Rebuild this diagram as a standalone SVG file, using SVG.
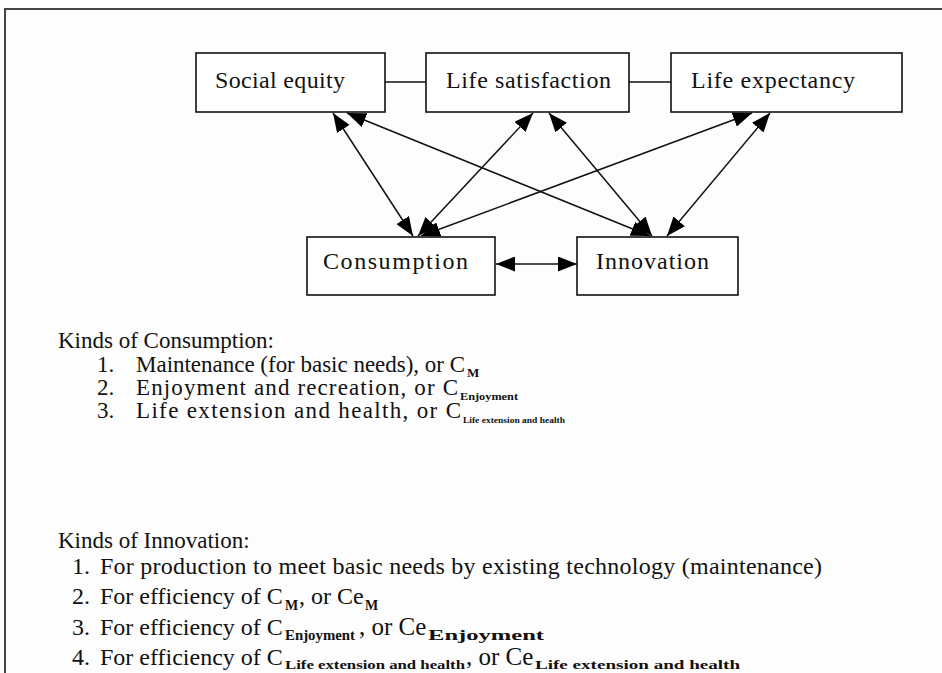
<svg xmlns="http://www.w3.org/2000/svg" width="942" height="673" viewBox="0 0 942 673">
<style>
text{font-family:"Liberation Serif","Times New Roman",serif;fill:#111}
.lbl{font-size:24px}
.body{font-size:23px}
.big{font-size:24px}
.sub{font-weight:bold}
.box{fill:#fff;stroke:#111;stroke-width:1.6}
.con{stroke:#111;stroke-width:1.5;fill:none}
</style>
<defs>
<marker id="ah" viewBox="0 0 19 15" refX="19" refY="7.5" markerWidth="19" markerHeight="15" markerUnits="userSpaceOnUse" orient="auto-start-reverse">
<path d="M0,0 L19,7.5 L0,15 z" fill="#000"/>
</marker>
</defs>
<rect x="0" y="0" width="942" height="673" fill="#fdfdfd"/>
<rect x="5" y="9" width="1000" height="1000" fill="none" stroke="#444" stroke-width="2"/>
<g id="connectors">
<line class="con" x1="385" y1="82" x2="426" y2="82"/>
<line class="con" x1="629" y1="82" x2="671" y2="82"/>
<line class="con" x1="333" y1="113" x2="413" y2="236" marker-start="url(#ah)" marker-end="url(#ah)"/>
<line class="con" x1="347" y1="113" x2="650" y2="236" marker-start="url(#ah)" marker-end="url(#ah)"/>
<line class="con" x1="533" y1="113" x2="418" y2="236" marker-start="url(#ah)" marker-end="url(#ah)"/>
<line class="con" x1="549" y1="113" x2="652" y2="236" marker-start="url(#ah)" marker-end="url(#ah)"/>
<line class="con" x1="752" y1="113" x2="421" y2="236" marker-start="url(#ah)" marker-end="url(#ah)"/>
<line class="con" x1="770" y1="113" x2="667" y2="236" marker-start="url(#ah)" marker-end="url(#ah)"/>
<line class="con" x1="496" y1="264" x2="577" y2="264" marker-start="url(#ah)" marker-end="url(#ah)"/>
</g>
<g id="social-equity">
<rect class="box" x="196" y="53" width="189" height="59"/>
<text class="lbl" x="215" y="88" textLength="130">Social equity</text>
</g>
<g id="life-satisfaction">
<rect class="box" x="426" y="53" width="203" height="59"/>
<text class="lbl" x="446" y="88" textLength="165">Life satisfaction</text>
</g>
<g id="life-expectancy">
<rect class="box" x="671" y="53" width="231" height="59"/>
<text class="lbl" x="691" y="88" textLength="164">Life expectancy</text>
</g>
<g id="consumption">
<rect class="box" x="307" y="237" width="188" height="58"/>
<text class="lbl" x="323" y="269" textLength="145">Consumption</text>
</g>
<g id="innovation">
<rect class="box" x="577" y="237" width="161" height="58"/>
<text class="lbl" x="596" y="269" textLength="113">Innovation</text>
</g>
<g id="kinds-of-consumption">
<text class="body" x="58" y="348">Kinds of Consumption:</text>
<text class="body" x="97" y="372">1.</text>
<text class="body" x="136" y="372" textLength="329">Maintenance (for basic needs), or C</text>
<text class="sub" x="467" y="377" font-size="13">M</text>
<text class="body" x="97" y="395">2.</text>
<text class="body" x="136" y="395" textLength="322">Enjoyment and recreation, or C</text>
<text class="sub" x="460" y="400" font-size="10" textLength="58" lengthAdjust="spacingAndGlyphs">Enjoyment</text>
<text class="body" x="97" y="418">3.</text>
<text class="body" x="136" y="418" textLength="325">Life extension and health, or C</text>
<text class="sub" x="463" y="423" font-size="9" textLength="102" lengthAdjust="spacingAndGlyphs">Life extension and health</text>
</g>
<g id="kinds-of-innovation">
<text class="body" x="58" y="548">Kinds of Innovation:</text>
<text class="big" x="72" y="574">1.</text>
<text class="big" x="100" y="574" textLength="722">For production to meet basic needs by existing technology (maintenance)</text>
<text class="big" x="72" y="604">2.</text>
<text class="big" x="100" y="604">For efficiency of C</text>
<text class="sub" x="285" y="610" font-size="14">M</text>
<text class="big" x="299" y="604">, or Ce</text>
<text class="sub" x="365" y="610" font-size="14">M</text>
<text class="big" x="72" y="635">3.</text>
<text class="big" x="100" y="635">For efficiency of C</text>
<text class="sub" x="285" y="640" font-size="14" textLength="70" lengthAdjust="spacingAndGlyphs">Enjoyment</text>
<text x="359" y="635" style="font-size:25px">, or Ce</text>
<text class="sub" x="428" y="640" font-size="14" textLength="116" lengthAdjust="spacingAndGlyphs">Enjoyment</text>
<text class="big" x="72" y="665">4.</text>
<text class="big" x="100" y="665">For efficiency of C</text>
<text class="sub" x="285" y="669" font-size="13" textLength="180" lengthAdjust="spacingAndGlyphs">Life extension and health</text>
<text x="466" y="665" style="font-size:25px">, or Ce</text>
<text class="sub" x="535" y="669" font-size="13" textLength="205" lengthAdjust="spacingAndGlyphs">Life extension and health</text>
</g>
</svg>
